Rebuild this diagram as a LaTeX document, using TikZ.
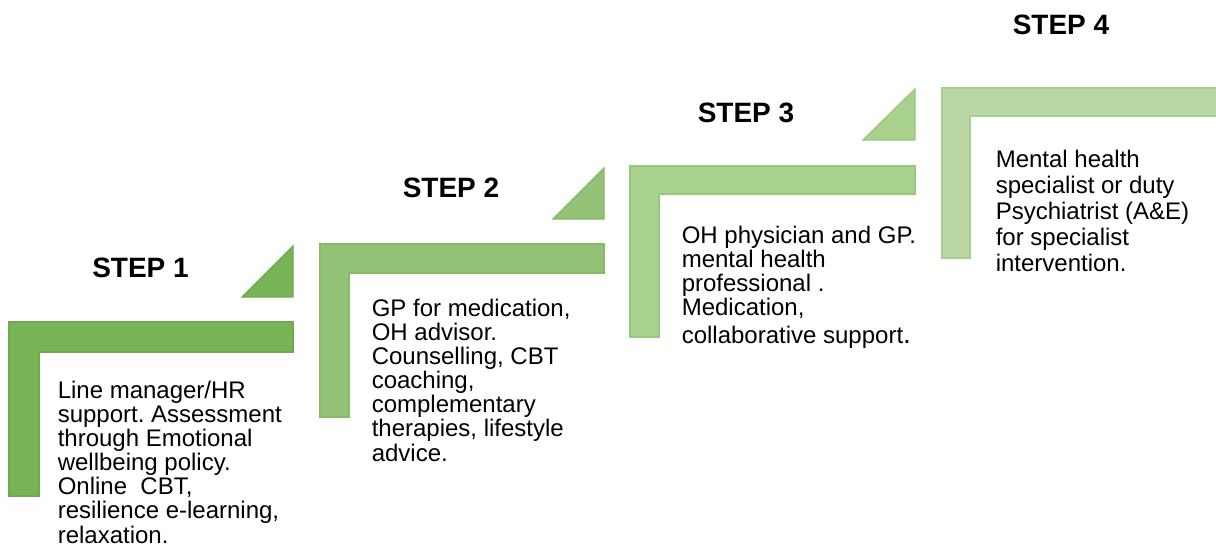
\documentclass[tikz,border=0pt]{standalone}
\usepackage{fontspec}
\setmainfont{Liberation Sans}
\frenchspacing
\definecolor{fillA}{HTML}{78B356}
\definecolor{fillB}{HTML}{93C276}
\definecolor{fillC}{HTML}{A9D18E}
\definecolor{fillD}{HTML}{BAD8A4}
\definecolor{edgeA}{HTML}{6EAA4B}
\definecolor{edgeB}{HTML}{86BA66}
\definecolor{edgeC}{HTML}{98C87A}
\definecolor{edgeD}{HTML}{A6CE8C}
\newcommand{\fl}{\rule{0pt}{18pt}}
\tikzset{
  shapeA/.style={fill=fillA, draw=edgeA, line width=1pt},
  shapeB/.style={fill=fillB, draw=edgeB, line width=1pt},
  shapeC/.style={fill=fillC, draw=edgeC, line width=1pt},
  shapeD/.style={fill=fillD, draw=edgeD, line width=1pt},
  steplabel/.style={anchor=base, inner sep=0pt, font=\fontsize{21pt}{25pt}\selectfont\bfseries},
  bodytext/.style={anchor=north west, inner sep=0pt, align=left, font=\fontsize{18pt}{18.1pt}\selectfont},
  bodytextD/.style={anchor=north west, inner sep=0pt, align=left, font=\fontsize{18pt}{19.5pt}\selectfont},
}
\begin{document}
\begin{tikzpicture}[x=0.75pt, y=-0.75pt]
\useasboundingbox (0,0) rectangle (1216,551);
% step 1
\path[shapeA] (9,322) -- (293,322) -- (293,352) -- (39,352) -- (39,496) -- (9,496) -- cycle;
\path[shapeA] (293,246) -- (293,297) -- (242,297) -- cycle;
% step 2
\path[shapeB] (320,244) -- (604,244) -- (604,273) -- (349,273) -- (349,417) -- (320,417) -- cycle;
\path[shapeB] (604,168) -- (604,219) -- (553,219) -- cycle;
% step 3
\path[shapeC] (630,166) -- (915,166) -- (915,194) -- (659,194) -- (659,337) -- (630,337) -- cycle;
\path[shapeC] (915,89) -- (915,140) -- (863,140) -- cycle;
% step 4
\path[shapeD] (942,88) -- (1222,88) -- (1222,116) -- (970,116) -- (970,258) -- (942,258) -- cycle;

\node[steplabel] (s1) at (140.5,277) {STEP 1};
\node[steplabel] (s2) at (451,197) {STEP 2};
\node[steplabel] (s3) at (746,122) {STEP 3};
\node[steplabel] (s4) at (1061,34) {STEP 4};

\node[bodytext] (t1) at (57.5,374) {\fl Line manager/HR\\support. Assessment\\through Emotional\\wellbeing policy.\\Online\ \ CBT,\\resilience e-learning,\\relaxation.};
\node[bodytext] (t2) at (371.5,292) {\fl GP for medication,\\OH advisor.\\Counselling, CBT\\coaching,\\complementary\\therapies, lifestyle\\advice.};
\node[bodytext] (t3) at (681.5,219) {\fl OH physician and GP.\\mental health\\professional .\\Medication,\\[3pt]collaborative support{\fontsize{21pt}{21pt}\selectfont .}};
\node[bodytextD] (t4) at (995.5,143) {\fl Mental health\\specialist or duty\\Psychiatrist (A\&E)\\for specialist\\intervention.};
\end{tikzpicture}
\end{document}
